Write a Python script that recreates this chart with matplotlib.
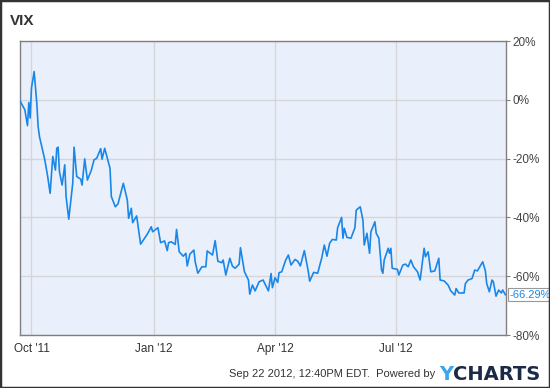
import matplotlib
matplotlib.use("Agg")
import matplotlib.pyplot as plt
from matplotlib.patches import Rectangle
import pandas as pd

plt.rcParams["font.family"] = ["Liberation Sans", "DejaVu Sans"]

# VIX, % change over one year
dates = [
    "2011-09-22", "2011-09-26", "2011-09-28", "2011-09-29", "2011-09-30", "2011-10-01",
    "2011-10-03", "2011-10-05", "2011-10-06", "2011-10-07", "2011-10-09", "2011-10-11",
    "2011-10-13", "2011-10-15", "2011-10-17", "2011-10-19", "2011-10-20", "2011-10-21",
    "2011-10-22", "2011-10-24", "2011-10-26", "2011-10-27", "2011-10-29", "2011-11-01",
    "2011-11-02", "2011-11-04", "2011-11-07", "2011-11-08", "2011-11-10", "2011-11-12",
    "2011-11-15", "2011-11-17", "2011-11-19", "2011-11-22", "2011-11-23", "2011-11-25",
    "2011-11-29", "2011-11-30", "2011-12-03", "2011-12-05", "2011-12-09", "2011-12-12",
    "2011-12-13", "2011-12-15", "2011-12-16", "2011-12-19", "2011-12-22", "2011-12-27",
    "2011-12-30", "2011-12-31", "2012-01-04", "2012-01-06", "2012-01-09", "2012-01-11",
    "2012-01-12", "2012-01-14", "2012-01-17", "2012-01-18", "2012-01-20", "2012-01-23",
    "2012-01-25", "2012-01-26", "2012-01-28", "2012-01-31", "2012-02-01", "2012-02-03",
    "2012-02-06", "2012-02-09", "2012-02-10", "2012-02-14", "2012-02-16", "2012-02-18",
    "2012-02-21", "2012-02-22", "2012-02-24", "2012-02-27", "2012-02-29", "2012-03-02",
    "2012-03-05", "2012-03-06", "2012-03-09", "2012-03-12", "2012-03-13", "2012-03-15",
    "2012-03-17", "2012-03-20", "2012-03-23", "2012-03-27", "2012-03-29", "2012-03-30",
    "2012-04-01", "2012-04-03", "2012-04-04", "2012-04-06", "2012-04-09", "2012-04-11",
    "2012-04-13", "2012-04-16", "2012-04-18", "2012-04-20", "2012-04-23", "2012-04-26",
    "2012-04-27", "2012-04-30", "2012-05-03", "2012-05-06", "2012-05-08", "2012-05-10",
    "2012-05-12", "2012-05-14", "2012-05-17", "2012-05-18", "2012-05-21", "2012-05-22",
    "2012-05-23", "2012-05-25", "2012-05-28", "2012-05-31", "2012-06-01", "2012-06-04",
    "2012-06-06", "2012-06-07", "2012-06-09", "2012-06-11", "2012-06-12", "2012-06-15",
    "2012-06-16", "2012-06-18", "2012-06-20", "2012-06-21", "2012-06-22", "2012-06-25",
    "2012-06-26", "2012-06-27", "2012-06-28", "2012-07-02", "2012-07-03", "2012-07-06",
    "2012-07-08", "2012-07-10", "2012-07-12", "2012-07-14", "2012-07-17", "2012-07-19",
    "2012-07-22", "2012-07-23", "2012-07-25", "2012-07-27", "2012-07-30", "2012-08-02",
    "2012-08-03", "2012-08-06", "2012-08-09", "2012-08-11", "2012-08-14", "2012-08-15",
    "2012-08-17", "2012-08-21", "2012-08-22", "2012-08-24", "2012-08-27", "2012-08-29",
    "2012-08-31", "2012-09-04", "2012-09-06", "2012-09-07", "2012-09-09", "2012-09-11",
    "2012-09-12", "2012-09-14", "2012-09-16", "2012-09-18", "2012-09-19", "2012-09-21",
]
pct = [
    0.0, -3.4, -8.8, -0.9, -6.2, 4.0,
    9.6, -1.1, -9.1, -12.5, -16.5, -20.4,
    -25.6, -31.8, -19.3, -23.9, -16.5, -16.1,
    -24.4, -29.0, -22.1, -32.9, -40.6, -28.4,
    -16.1, -26.1, -27.0, -29.0, -20.1, -27.3,
    -23.9, -20.4, -19.9, -16.6, -20.2, -16.5,
    -23.3, -32.9, -36.4, -35.4, -28.4, -34.1,
    -40.3, -36.9, -41.8, -39.5, -49.1, -45.7,
    -43.2, -44.9, -43.5, -48.6, -48.0, -51.3,
    -48.6, -48.3, -49.2, -44.1, -51.7, -53.2,
    -52.2, -56.5, -52.5, -51.1, -55.1, -59.0,
    -56.8, -56.8, -51.4, -52.8, -47.9, -54.9,
    -55.4, -54.5, -59.6, -53.9, -56.6, -57.3,
    -55.9, -50.3, -58.5, -61.3, -66.1, -63.0,
    -65.0, -61.9, -61.3, -65.0, -59.1, -63.9,
    -60.5, -62.1, -58.8, -58.5, -54.5, -52.8,
    -56.2, -54.3, -54.9, -56.5, -51.3, -58.5,
    -61.7, -58.7, -59.0, -53.9, -49.4, -53.2,
    -48.8, -47.5, -47.7, -43.5, -40.0, -47.1,
    -43.7, -46.8, -47.1, -43.5, -37.5, -36.4,
    -40.9, -49.4, -45.4, -52.2, -44.9, -41.5,
    -45.4, -47.1, -57.9, -59.0, -54.5, -50.5,
    -52.2, -50.5, -57.3, -57.7, -59.6, -56.2,
    -55.9, -56.8, -54.5, -56.8, -58.5, -61.3,
    -50.5, -53.4, -51.7, -58.5, -58.2, -53.9,
    -61.3, -61.6, -63.0, -65.0, -66.4, -64.2,
    -65.7, -65.7, -62.5, -61.3, -60.8, -57.9,
    -58.2, -55.1, -58.2, -62.5, -65.3, -61.3,
    -61.9, -66.8, -64.7, -65.7, -64.7, -66.29,
]

y_ticks = [20, 0, -20, -40, -60, -80]
x_tick_dates = ["2011-10-01", "2012-01-01", "2012-04-01", "2012-07-01"]
x_tick_labels = ["Oct '11", "Jan '12", "Apr '12", "Jul '12"]

x = pd.to_datetime(dates)

fig = plt.figure(figsize=(5.5, 3.88), dpi=100)
fig.patch.set_facecolor("white")
ax = fig.add_axes([19.5 / 550, 53 / 388, 486.5 / 550, 294 / 388])
ax.set_facecolor("#eaf0fb")

ax.plot(x, pct, color="#1a87e8", lw=1.2, zorder=3)

ax.set_xlim(pd.Timestamp("2011-09-22"), pd.Timestamp("2012-09-21 12:00"))
ax.set_ylim(-80, 20)

ax.set_yticks(y_ticks)
ax.set_yticklabels([f"{t}%" for t in y_ticks])
ax.yaxis.tick_right()
ax.tick_params(axis="y", length=3, width=0.8, color="#808080", pad=1.5,
               labelsize=8.5, labelcolor="#444444")

ax.set_xticks(pd.to_datetime(x_tick_dates))
ax.set_xticklabels(x_tick_labels)
ax.tick_params(axis="x", length=0, pad=6, labelsize=8.5, labelcolor="#333333")

ax.grid(True, color="#d6d6d6", lw=1)
ax.set_axisbelow(True)
for s in ax.spines.values():
    s.set_color("#808080")
    s.set_linewidth(1)

# last value flag
ax.annotate(f"{pct[-1]:.2f}%", xy=(1, pct[-1]), xycoords=("axes fraction", "data"),
            xytext=(2.5, 0), textcoords="offset points", ha="left", va="center",
            fontsize=8, color="#1a87e8", annotation_clip=False,
            bbox=dict(boxstyle="square,pad=0.12", fc="white", ec="#999999", lw=0.8))

fig.text(10 / 550, 1 - 21 / 388, "VIX", fontsize=11, fontweight="bold",
         color="#333333", va="center", ha="left")

fig.text(435 / 550, 1 - 374 / 388, "Sep 22 2012, 12:40PM EDT.  Powered by",
         fontsize=8, color="#333333", ha="right", va="center")
fig.text(439 / 550, 1 - 374 / 388, "Y", fontsize=14, fontweight="bold",
         color="#3aa6ee", ha="left", va="center", family="DejaVu Sans")
fig.text(453 / 550, 1 - 374 / 388, "CHARTS", fontsize=14, fontweight="bold",
         color="#1c2a48", ha="left", va="center", family="DejaVu Sans")

fig.patches.append(Rectangle((0, 0), 1, 1, transform=fig.transFigure,
                             fill=False, ec="#333333", lw=2.5))

fig.savefig("out.png", dpi=100)
